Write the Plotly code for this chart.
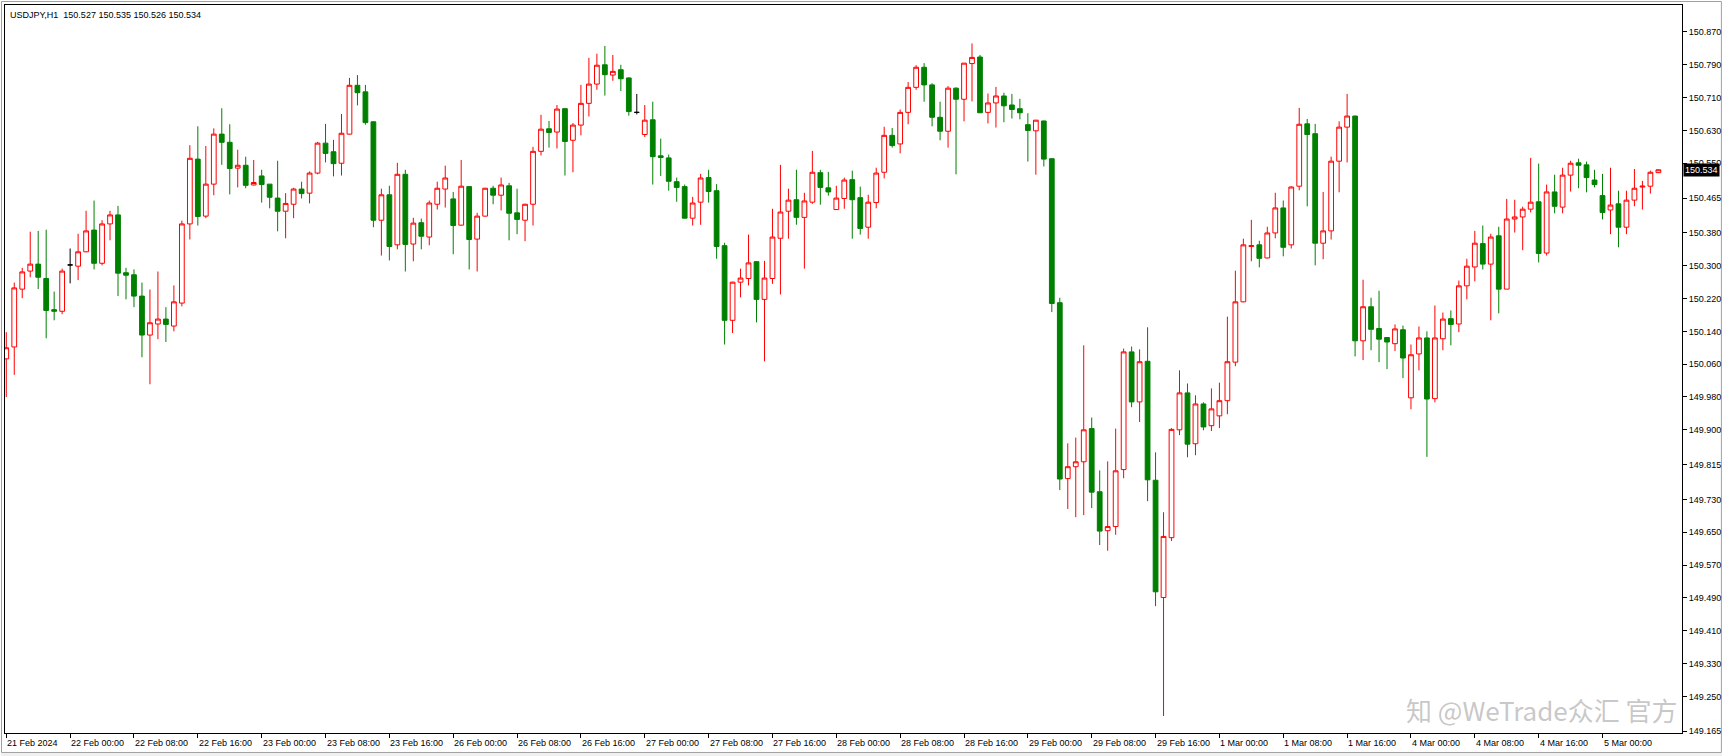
import plotly.graph_objects as go

symbol = "USDJPY,H1"

opens = [
    150.073, 150.102, 150.243, 150.287, 150.304, 150.269, 150.193, 150.189, 150.302, 150.299,
    150.334, 150.387, 150.306, 150.402, 150.424, 150.283, 150.278, 150.226, 150.131, 150.158,
    150.170, 150.153, 150.209, 150.402, 150.560, 150.421, 150.499, 150.621, 150.601, 150.538,
    150.545, 150.497, 150.519, 150.499, 150.465, 150.433, 150.450, 150.487, 150.477, 150.526,
    150.599, 150.578, 150.550, 150.621, 150.740, 150.724, 150.651, 150.411, 150.473, 150.351,
    150.523, 150.353, 150.405, 150.370, 150.450, 150.487, 150.463, 150.399, 150.493, 150.365,
    150.421, 150.489, 150.472, 150.495, 150.429, 150.411, 150.450, 150.579, 150.634, 150.626,
    150.683, 150.606, 150.643, 150.696, 150.743, 150.790, 150.765, 150.778, 150.758, 150.674,
    150.620, 150.656, 150.568, 150.563, 150.505, 150.493, 150.416, 150.455, 150.515, 150.483,
    150.349, 150.167, 150.260, 150.269, 150.310, 150.218, 150.269, 150.367, 150.433, 150.461,
    150.418, 150.455, 150.527, 150.490, 150.437, 150.464, 150.510, 150.466, 150.394, 150.454,
    150.528, 150.618, 150.597, 150.674, 150.735, 150.784, 150.741, 150.662, 150.628, 150.733,
    150.706, 150.793, 150.809, 150.674, 150.697, 150.714, 150.692, 150.683, 150.644, 150.629,
    150.653, 150.561, 150.210, 149.781, 149.810, 149.822, 149.903, 149.749, 149.654, 149.664,
    149.803, 150.090, 149.968, 150.067, 149.777, 149.491, 149.637, 149.900, 149.990, 149.866,
    149.963, 149.910, 149.934, 149.971, 150.065, 150.212, 150.347, 150.351, 150.319, 150.380,
    150.441, 150.351, 150.494, 150.646, 150.622, 150.355, 150.385, 150.555, 150.638, 150.665,
    150.117, 150.200, 150.147, 150.125, 150.110, 150.144, 149.978, 150.085, 150.124, 149.976,
    150.122, 150.171, 150.158, 150.251, 150.297, 150.354, 150.304, 150.373, 150.243, 150.414,
    150.419, 150.438, 150.456, 150.331, 150.480, 150.443, 150.521, 150.551, 150.546, 150.509,
    150.471, 150.436, 150.451, 150.394, 150.460, 150.492, 150.494, 150.527,
]

highs = [
    150.138, 150.259, 150.295, 150.383, 150.385, 150.388, 150.237, 150.293, 150.342, 150.378,
    150.434, 150.459, 150.411, 150.434, 150.446, 150.295, 150.291, 150.259, 150.242, 150.286,
    150.199, 150.252, 150.410, 150.594, 150.640, 150.592, 150.635, 150.684, 150.645, 150.583,
    150.566, 150.558, 150.534, 150.499, 150.556, 150.477, 150.490, 150.505, 150.530, 150.602,
    150.646, 150.607, 150.670, 150.758, 150.765, 150.741, 150.652, 150.488, 150.495, 150.551,
    150.534, 150.417, 150.415, 150.459, 150.505, 150.544, 150.480, 150.558, 150.493, 150.429,
    150.490, 150.495, 150.515, 150.502, 150.488, 150.451, 150.590, 150.668, 150.653, 150.692,
    150.685, 150.648, 150.741, 150.807, 150.817, 150.836, 150.814, 150.790, 150.759, 150.719,
    150.692, 150.700, 150.610, 150.571, 150.515, 150.498, 150.468, 150.524, 150.534, 150.499,
    150.356, 150.261, 150.293, 150.376, 150.311, 150.312, 150.439, 150.546, 150.488, 150.534,
    150.478, 150.580, 150.534, 150.529, 150.495, 150.515, 150.532, 150.493, 150.473, 150.539,
    150.639, 150.636, 150.681, 150.748, 150.789, 150.794, 150.745, 150.700, 150.738, 150.735,
    150.794, 150.842, 150.814, 150.720, 150.736, 150.722, 150.719, 150.707, 150.672, 150.655,
    150.654, 150.562, 150.222, 149.867, 149.881, 150.106, 149.930, 149.801, 149.823, 149.903,
    150.098, 150.103, 150.096, 150.150, 149.845, 149.699, 149.904, 150.045, 150.013, 149.984,
    149.967, 150.001, 150.015, 150.176, 150.288, 150.366, 150.412, 150.361, 150.395, 150.478,
    150.459, 150.494, 150.685, 150.658, 150.646, 150.480, 150.566, 150.652, 150.719, 150.666,
    150.266, 150.222, 150.239, 150.125, 150.157, 150.154, 150.108, 150.152, 150.140, 150.203,
    150.186, 150.191, 150.264, 150.317, 150.385, 150.398, 150.378, 150.395, 150.463, 150.461,
    150.444, 150.563, 150.549, 150.498, 150.522, 150.539, 150.556, 150.561, 150.554, 150.534,
    150.524, 150.539, 150.483, 150.483, 150.536, 150.507, 150.532, 150.535,
]

lows = [
    149.980, 150.034, 150.221, 150.272, 150.243, 150.123, 150.167, 150.182, 150.257, 150.265,
    150.333, 150.291, 150.301, 150.362, 150.226, 150.218, 150.199, 150.077, 150.011, 150.121,
    150.114, 150.140, 150.201, 150.364, 150.398, 150.416, 150.472, 150.546, 150.474, 150.491,
    150.489, 150.496, 150.454, 150.440, 150.384, 150.367, 150.416, 150.464, 150.452, 150.523,
    150.552, 150.518, 150.520, 150.620, 150.691, 150.644, 150.394, 150.325, 150.313, 150.340,
    150.286, 150.311, 150.340, 150.350, 150.437, 150.442, 150.328, 150.398, 150.291, 150.286,
    150.420, 150.450, 150.435, 150.362, 150.377, 150.360, 150.398, 150.569, 150.588, 150.586,
    150.520, 150.528, 150.618, 150.664, 150.729, 150.715, 150.751, 150.726, 150.666, 150.669,
    150.614, 150.498, 150.519, 150.483, 150.456, 150.415, 150.398, 150.400, 150.454, 150.317,
    150.108, 150.136, 150.223, 150.252, 150.162, 150.067, 150.256, 150.230, 150.366, 150.400,
    150.293, 150.451, 150.449, 150.471, 150.437, 150.439, 150.366, 150.376, 150.366, 150.440,
    150.513, 150.588, 150.574, 150.645, 150.729, 150.700, 150.640, 150.606, 150.588, 150.523,
    150.652, 150.701, 150.673, 150.647, 150.637, 150.650, 150.659, 150.657, 150.554, 150.522,
    150.542, 150.187, 149.753, 149.707, 149.687, 149.692, 149.709, 149.619, 149.605, 149.644,
    149.782, 149.955, 149.919, 149.726, 149.470, 149.202, 149.629, 149.887, 149.833, 149.838,
    149.899, 149.897, 149.904, 149.938, 150.055, 150.211, 150.311, 150.296, 150.318, 150.367,
    150.323, 150.342, 150.484, 150.445, 150.301, 150.316, 150.364, 150.479, 150.552, 150.079,
    150.070, 150.094, 150.065, 150.048, 150.092, 150.026, 149.950, 150.045, 149.834, 149.967,
    150.094, 150.106, 150.138, 150.218, 150.262, 150.291, 150.167, 150.184, 150.243, 150.381,
    150.338, 150.430, 150.308, 150.325, 150.428, 150.428, 150.481, 150.489, 150.479, 150.491,
    150.413, 150.377, 150.345, 150.377, 150.445, 150.437, 150.476, 150.526,
]

closes = [
    150.100, 150.246, 150.285, 150.304, 150.272, 150.191, 150.189, 150.287, 150.302, 150.334,
    150.385, 150.306, 150.402, 150.424, 150.282, 150.277, 150.226, 150.131, 150.161, 150.170,
    150.157, 150.212, 150.402, 150.562, 150.420, 150.499, 150.621, 150.601, 150.537, 150.545,
    150.496, 150.503, 150.498, 150.467, 150.433, 150.452, 150.487, 150.476, 150.526, 150.599,
    150.574, 150.549, 150.623, 150.740, 150.722, 150.649, 150.411, 150.473, 150.347, 150.523,
    150.352, 150.404, 150.372, 150.453, 150.489, 150.514, 150.398, 150.494, 150.364, 150.421,
    150.489, 150.472, 150.497, 150.428, 150.413, 150.450, 150.579, 150.633, 150.625, 150.682,
    150.603, 150.643, 150.696, 150.743, 150.789, 150.766, 150.774, 150.756, 150.676, 150.674,
    150.655, 150.566, 150.564, 150.506, 150.491, 150.416, 150.453, 150.514, 150.481, 150.347,
    150.167, 150.260, 150.270, 150.307, 150.218, 150.270, 150.370, 150.431, 150.460, 150.418,
    150.458, 150.528, 150.491, 150.480, 150.465, 150.509, 150.461, 150.391, 150.455, 150.526,
    150.618, 150.593, 150.674, 150.735, 150.784, 150.741, 150.662, 150.628, 150.733, 150.706,
    150.794, 150.808, 150.673, 150.697, 150.714, 150.690, 150.681, 150.673, 150.630, 150.655,
    150.560, 150.208, 149.780, 149.810, 149.822, 149.900, 149.748, 149.653, 149.664, 149.800,
    150.090, 149.968, 150.066, 149.778, 149.505, 149.640, 149.901, 149.990, 149.865, 149.963,
    149.907, 149.951, 149.971, 150.066, 150.212, 150.351, 150.349, 150.318, 150.380, 150.441,
    150.345, 150.492, 150.645, 150.620, 150.355, 150.385, 150.555, 150.638, 150.665, 150.117,
    150.200, 150.145, 150.121, 150.114, 150.146, 150.075, 150.083, 150.124, 149.975, 150.124,
    150.170, 150.157, 150.251, 150.299, 150.355, 150.304, 150.370, 150.243, 150.414, 150.419,
    150.438, 150.455, 150.330, 150.480, 150.445, 150.521, 150.550, 150.545, 150.515, 150.498,
    150.430, 150.448, 150.394, 150.460, 150.489, 150.494, 150.528, 150.534,
]

x_tick_labels = [
    "21 Feb 2024", "22 Feb 00:00", "22 Feb 08:00", "22 Feb 16:00", "23 Feb 00:00",
    "23 Feb 08:00", "23 Feb 16:00", "26 Feb 00:00", "26 Feb 08:00", "26 Feb 16:00",
    "27 Feb 00:00", "27 Feb 08:00", "27 Feb 16:00", "28 Feb 00:00", "28 Feb 08:00",
    "28 Feb 16:00", "29 Feb 00:00", "29 Feb 08:00", "29 Feb 16:00", "1 Mar 00:00",
    "1 Mar 08:00", "1 Mar 16:00", "4 Mar 00:00", "4 Mar 08:00", "4 Mar 16:00",
    "5 Mar 00:00",
]
bars_per_label = 8

y_tick_vals = [
    150.870, 150.790, 150.710, 150.630, 150.550, 150.465, 150.380, 150.300, 150.220,
    150.140, 150.060, 149.980, 149.900, 149.815, 149.730, 149.650, 149.570, 149.490,
    149.410, 149.330, 149.250, 149.165,
]

watermark = "知 @WeTrade众汇 官方"

FONT = "Liberation Sans, Arial, sans-serif"
BULL = "#ff0000"
BEAR = "#008000"

idx = list(range(len(opens)))
bull = [i for i in idx if closes[i] > opens[i]]
bear = [i for i in idx if closes[i] < opens[i]]
doji = [i for i in idx if closes[i] == opens[i]]


def pick(ii, arr):
    return [arr[i] for i in ii]


fig = go.Figure()
for ii, lc, fc in [(bull, BULL, "#ffffff"), (bear, BEAR, BEAR), (doji, "#000000", "#000000")]:
    style = dict(line=dict(color=lc, width=1), fillcolor=fc)
    fig.add_trace(go.Candlestick(
        x=ii, open=pick(ii, opens), high=pick(ii, highs), low=pick(ii, lows), close=pick(ii, closes),
        increasing=style, decreasing=style, whiskerwidth=0,
        showlegend=False, hoverinfo="skip",
    ))

x_ticks = [k * bars_per_label for k in range(len(x_tick_labels))]

annotations = []
for xv, lab in zip(x_ticks, x_tick_labels):
    annotations.append(dict(
        x=xv, xref="x", y=0, yref="paper", yanchor="top", xanchor="left",
        yshift=-3, xshift=-1, text=lab, showarrow=False,
        font=dict(family=FONT, size=9, color="#000000"),
    ))

annotations.append(dict(
    x=0, xref="paper", y=1, yref="paper", xanchor="left", yanchor="top",
    xshift=3, yshift=-3, showarrow=False,
    text=f"{symbol}\u00a0\u00a0{opens[-1]:.3f} {highs[-1]:.3f} {lows[-1]:.3f} {closes[-1]:.3f}",
    font=dict(family=FONT, size=9, color="#000000"),
))

annotations.append(dict(
    x=1, xref="paper", y=closes[-1], yref="y", xanchor="left", yanchor="middle",
    xshift=1, showarrow=False, text=f"{closes[-1]:.3f}", bgcolor="#000000",
    borderpad=1, font=dict(family=FONT, size=9, color="#ffffff"),
))

annotations.append(dict(
    x=1, xref="paper", y=0, yref="paper", xanchor="right", yanchor="bottom",
    xshift=-2, yshift=3, showarrow=False, text=watermark,
    font=dict(family="Noto Sans CJK SC", size=26, color="rgba(175,175,175,0.7)"),
))

# plot area: x 4..1685, y 4..733 (figure pixels)
PW, PH = 1681.0, 729.0
shapes = [
    dict(type="rect", xref="paper", yref="paper",
         x0=(0.5 - 4) / PW, x1=(1724.5 - 4) / PW, y0=(733 - 752.5) / PH, y1=(733 - 0.5) / PH,
         line=dict(color="#a0a0a0", width=1), fillcolor="rgba(0,0,0,0)", layer="below"),
    dict(type="rect", xref="paper", yref="paper",
         x0=(0 - 4) / PW, x1=(1725 - 4) / PW, y0=(733 - 756) / PH, y1=(733 - 753) / PH,
         line=dict(width=0), fillcolor="#f0f0f0", layer="below"),
]

fig.update_layout(
    width=1725, height=756,
    margin=dict(l=4, r=40, t=4, b=23, pad=0),
    paper_bgcolor="#ffffff", plot_bgcolor="#ffffff",
    boxgap=0.15, boxgroupgap=0.3,
    annotations=annotations, shapes=shapes,
    xaxis=dict(
        range=[-0.16, 209.96], showgrid=False, zeroline=False,
        showline=True, mirror=True, linecolor="#000000", linewidth=1,
        ticks="outside", ticklen=4, tickcolor="#000000", tickwidth=1,
        tickvals=x_ticks, showticklabels=False,
        rangeslider=dict(visible=False), fixedrange=True,
    ),
    yaxis=dict(
        range=[149.1607, 150.9358], side="right", showgrid=False, zeroline=False,
        showline=True, mirror=True, linecolor="#000000", linewidth=1,
        ticks="outside", ticklen=4, tickcolor="#000000", tickwidth=1,
        tickvals=y_tick_vals, ticktext=[f"{v:.3f}" for v in y_tick_vals],
        tickfont=dict(family=FONT, size=9, color="#000000"), fixedrange=True,
    ),
    font=dict(family=FONT, size=9, color="#000000"),
)

fig.write_html("out.html")
